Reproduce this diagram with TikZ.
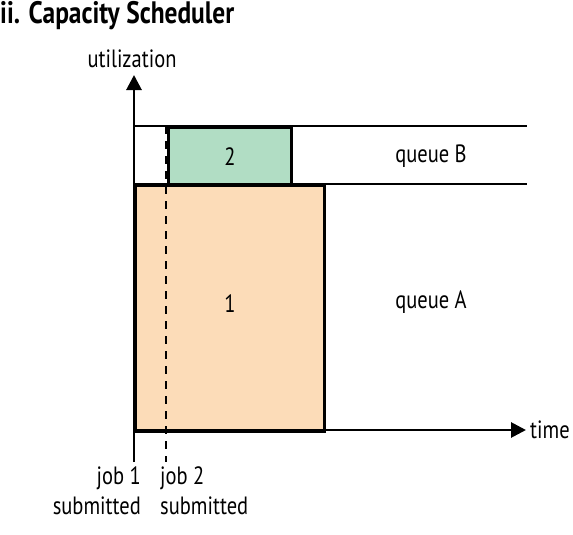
\documentclass[tikz,border=0pt]{standalone}
\usepackage{fontspec}
\setmainfont[FakeStretch=0.82]{PT Sans}
\usetikzlibrary{arrows.meta,positioning}
\definecolor{peach}{HTML}{FCDCB8}
\definecolor{mint}{HTML}{B1DDC4}

\begin{document}
\begin{tikzpicture}[x=1pt,y=-1pt,
    lbl/.style={font=\fontsize{25}{30}\selectfont, inner sep=0pt},
    job/.style={draw, line width=2.8pt, inner sep=0pt, anchor=north west},
    axis/.style={-{Triangle[length=15pt,width=15pt]}, line width=2.8pt}
]
\useasboundingbox (0,0) rectangle (573,535);
% title
\node[lbl, anchor=west, font=\fontsize{31}{32}\selectfont\bfseries] (title) at (0,16) {ii. Capacity Scheduler};
% queues
\node[job, fill=peach, minimum width=189pt, minimum height=246pt] (jobA) at (134,184) {};
\node[job, fill=mint, minimum width=123pt, minimum height=58pt] (jobB) at (167,126) {};
\node[lbl] (one) at ([yshift=5pt]jobA.center) {1};
\node[lbl] (two) at (jobB.center) {2};
\coordinate (topL) at (134,126);
\coordinate (topR) at (527,126);
\coordinate (midL) at (134,184);
\coordinate (midR) at (527,184);
\draw[line width=2.8pt] (topL) -- (topR);
\draw[line width=2.8pt] (midL) -- (midR);
\node[lbl] (qB) at (431,156) {queue B};
\node[lbl] (qA) at (431,302) {queue A};
% axes
\coordinate (origin) at (134,430);
\coordinate (ybot) at (134,462);
\coordinate (ytip) at (134,75);
\coordinate (xtip) at (526,430);
\draw[axis] (ybot) -- (ytip);
\draw[axis] (origin) -- (xtip);
\node[lbl, anchor=west] (time) at (530,430) {time};
\node[lbl, anchor=south] (util) at (132,68) {utilization};
% job 2 submitted
\coordinate (dtop) at (166,126);
\coordinate (dbot) at (166,462);
\draw[line width=2.8pt, dash pattern=on 8pt off 7pt] (dtop) -- (dbot);
\node[lbl, align=right, anchor=north east] (sub1) at (141,466) {job 1\\submitted};
\node[lbl, align=left, anchor=north west] (sub2) at (160,466) {job 2\\submitted};
\end{tikzpicture}
\end{document}
